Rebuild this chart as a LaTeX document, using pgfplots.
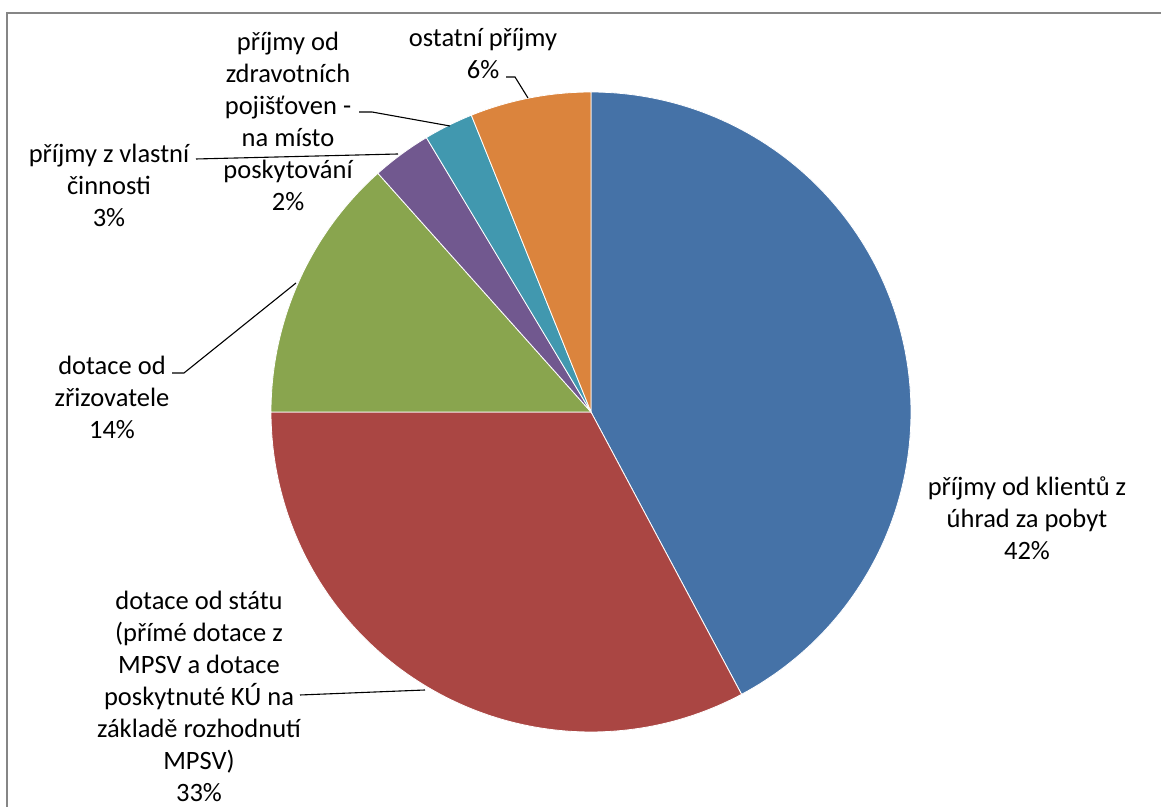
\documentclass[border=0pt]{standalone}
\usepackage{pgfplots}
\pgfplotsset{compat=1.18}
\usepackage{fontspec}
\setmainfont{Carlito}
\definecolor{cBlue}{HTML}{4572A7}
\definecolor{cRed}{HTML}{AA4643}
\definecolor{cGreen}{HTML}{89A54E}
\definecolor{cPurple}{HTML}{71588F}
\definecolor{cTeal}{HTML}{4198AF}
\definecolor{cOrange}{HTML}{DB843D}
\definecolor{cFrame}{HTML}{868686}
% slice values (percent)
\def\vA{42.2}\def\vB{32.8}\def\vC{13.4}\def\vD{3.0}\def\vE{2.5}\def\vF{6.1}
\pgfmathsetmacro\bA{90-3.6*\vA}
\pgfmathsetmacro\bB{\bA-3.6*\vB}
\pgfmathsetmacro\bC{\bB-3.6*\vC}
\pgfmathsetmacro\bD{\bC-3.6*\vD}
\pgfmathsetmacro\bE{\bD-3.6*\vE}
\pgfmathsetmacro\bF{\bE-3.6*\vF}
\begin{document}
\begin{tikzpicture}
\begin{axis}[
  x=1bp, y=1bp, xmin=0, xmax=1161, ymin=0, ymax=807,
  hide axis, clip=false, scale only axis,
]
\coordinate (BL) at (axis cs:0,0);
\coordinate (TR) at (axis cs:1161,807);
\draw[cFrame, line width=1.6bp] (axis cs:7,-5) -- (axis cs:7,794) -- (axis cs:1170,794);
\addplot[fill=cBlue, draw=white, line width=0.8bp, domain=\bA:90, samples=120] ({591+320*cos(x)},{395+320*sin(x)}) -- (axis cs:591,395) -- cycle;
\addplot[fill=cRed, draw=white, line width=0.8bp, domain=\bB:\bA, samples=100] ({591+320*cos(x)},{395+320*sin(x)}) -- (axis cs:591,395) -- cycle;
\addplot[fill=cGreen, draw=white, line width=0.8bp, domain=\bC:\bB, samples=50] ({591+320*cos(x)},{395+320*sin(x)}) -- (axis cs:591,395) -- cycle;
\addplot[fill=cPurple, draw=white, line width=0.8bp, domain=\bD:\bC, samples=15] ({591+320*cos(x)},{395+320*sin(x)}) -- (axis cs:591,395) -- cycle;
\addplot[fill=cTeal, draw=white, line width=0.8bp, domain=\bE:\bD, samples=15] ({591+320*cos(x)},{395+320*sin(x)}) -- (axis cs:591,395) -- cycle;
\addplot[fill=cOrange, draw=white, line width=0.8bp, domain=\bF:\bE, samples=30] ({591+320*cos(x)},{395+320*sin(x)}) -- (axis cs:591,395) -- cycle;
% leader lines
\draw[black, line width=1.1bp] (axis cs:300,112) -- (axis cs:425,117);
\draw[black, line width=1.1bp] (axis cs:172,434) -- (axis cs:184,434) -- (axis cs:296,524);
\draw[black, line width=1.1bp] (axis cs:196,648) -- (axis cs:398,653);
\draw[black, line width=1.1bp] (axis cs:359,695) -- (axis cs:372,695) -- (axis cs:450,681);
\draw[black, line width=1.1bp] (axis cs:506,730) -- (axis cs:515,730) -- (axis cs:528,709);
% labels
\tikzset{lab/.style={align=center, inner sep=0pt, font=\fontsize{26.5bp}{32bp}\selectfont}}
\node[lab] at (axis cs:1027,289) {příjmy od klientů z\\úhrad za pobyt\\42\%};
\node[lab] at (axis cs:199,111) {dotace od státu\\(přímé dotace z\\MPSV a dotace\\poskytnuté KÚ na\\základě rozhodnutí\\MPSV)\\33\%};
\node[lab] at (axis cs:112,410) {dotace od\\zřizovatele\\14\%};
\node[lab] at (axis cs:109,622) {příjmy z vlastní\\činnosti\\3\%};
\node[lab] at (axis cs:288,686) {příjmy od\\zdravotních\\pojišťoven -\\na místo\\poskytování\\2\%};
\node[lab] at (axis cs:483,753) {ostatní příjmy\\6\%};
\end{axis}
\pgfresetboundingbox
\useasboundingbox (BL) rectangle (TR);
\end{tikzpicture}
\end{document}
